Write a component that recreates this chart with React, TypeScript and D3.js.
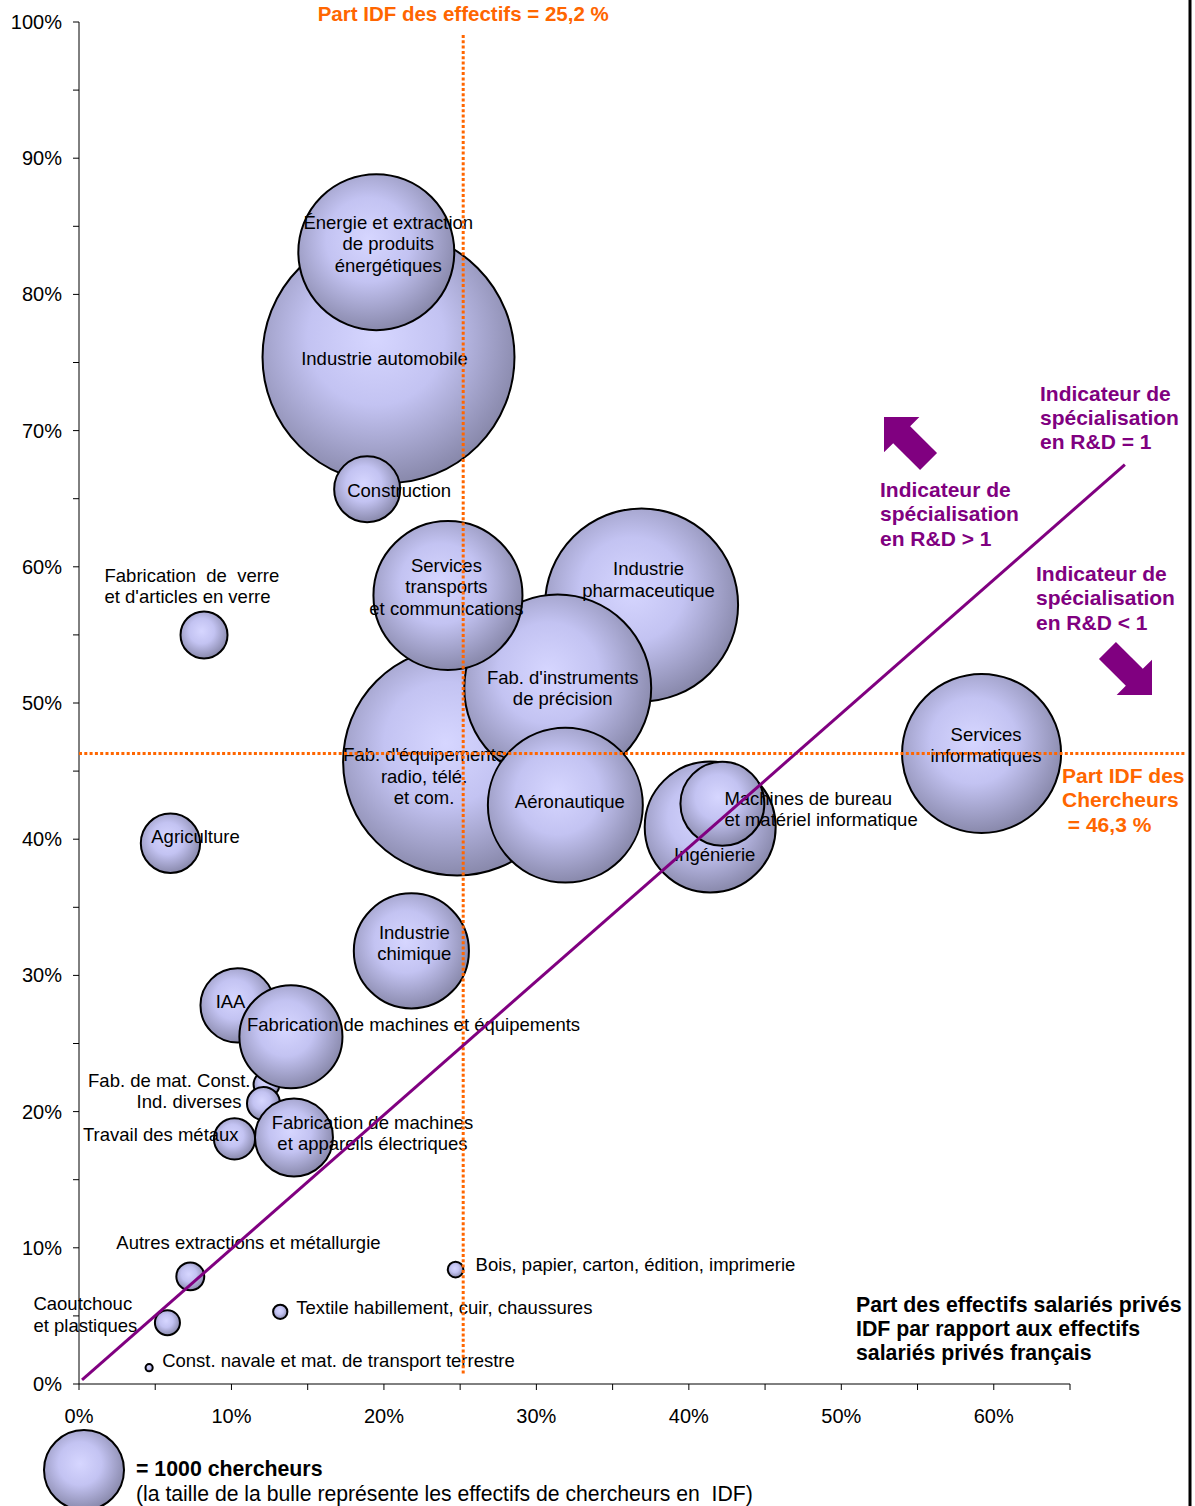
import React from "react";
import * as d3 from "d3";

// Sectors (a "\n" marks where the bubble label wraps)
const sectors = [
  "Industrie automobile",
  "Énergie et extraction\nde produits\nénergétiques",
  "Construction",
  "Fab. d'équipements\nradio, télé.\net com.",
  "Industrie\npharmaceutique",
  "Fab. d'instruments\nde précision",
  "Services\ntransports\net communications",
  "Aéronautique",
  "Ingénierie",
  "Machines de bureau\net matériel informatique",
  "Services\ninformatiques",
  "Fabrication  de  verre\net d'articles en verre",
  "Agriculture",
  "Industrie\nchimique",
  "IAA",
  "Fab. de mat. Const.",
  "Ind. diverses",
  "Fabrication de machines et équipements",
  "Travail des métaux",
  "Fabrication de machines\net appareils électriques",
  "Autres extractions et métallurgie",
  "Caoutchouc\net plastiques",
  "Const. navale et mat. de transport terrestre",
  "Textile habillement, cuir, chaussures",
  "Bois, papier, carton, édition, imprimerie",
];

// Part des effectifs salariés privés IDF / France (%)
const employeeShare = [
  20.3, 19.5, 18.9, 24.8, 36.9, 31.4, 24.2, 31.9, 41.4, 42.2, 59.2, 8.2, 6.0,
  21.8, 10.4, 12.3, 12.1, 13.9, 10.2, 14.1, 7.3, 5.8, 4.6, 13.2, 24.7,
];

// Part IDF des chercheurs (%)
const researcherShare = [
  75.4, 83.1, 65.7, 45.7, 57.2, 51.1, 57.9, 42.5, 40.9, 42.6, 46.3, 55.0, 39.7,
  31.8, 27.8, 22.0, 20.6, 25.5, 18.0, 18.1, 7.9, 4.5, 1.2, 5.3, 8.4,
];

// Effectifs de chercheurs en IDF (bubble area)
const researchers = [
  9920, 3800, 680, 8120, 5820, 5460, 3470, 3750, 2680, 1100, 3950, 345, 550,
  2070, 860, 105, 170, 1660, 265, 950, 122, 98, 8, 32, 38,
];

// Reference values
const idfEmployeeShare = 25.2;
const idfResearcherShare = 46.3;
const legendResearchers = 1000;
// Specialisation indicator = 1 line, endpoints in data units
const indicatorLine = [
  [0.2, 0.3],
  [68.6, 67.5],
];

// Axis ticks
const xMajorTicks = [0, 10, 20, 30, 40, 50, 60];
const xMinorTicks = [5, 15, 25, 35, 45, 55, 65];
const yMajorTicks = [0, 10, 20, 30, 40, 50, 60, 70, 80, 90, 100];
const yMinorTicks = [5, 15, 25, 35, 45, 55, 65, 75, 85, 95];

// Label placement relative to each bubble centre: [dx, dy of first line, anchor]
const labelLayout: [number, number, string][] = [
  [-4, 1, "middle"],
  [12, -30, "middle"],
  [32, 1, "middle"],
  [-33, -7, "middle"],
  [7, -36, "middle"],
  [5, -11, "middle"],
  [-1.5, -30, "middle"],
  [4.5, -4, "middle"],
  [4.5, 27.5, "middle"],
  [2, -5.5, "start"],
  [4.5, -19, "middle"],
  [-99.5, -59.5, "start"],
  [25, -6.5, "middle"],
  [3, -18.5, "middle"],
  [-7, -4, "middle"],
  [-16, -4, "end"],
  [-22, -2, "end"],
  [-44, -12, "start"],
  [-151.5, -4.5, "start"],
  [78.5, -15, "middle"],
  [-74, -34, "start"],
  [-134, -19, "start"],
  [13, -7, "start"],
  [16, -4, "start"],
  [20, -5, "start"],
];

const W = 1195;
const H = 1506;
const FONT = "'Liberation Sans', Arial, Helvetica, sans-serif";
const ORANGE = "#FF6600";
const PURPLE = "#800080";
const LINE_H = 21.5;

const x = d3.scaleLinear().domain([0, 65]).range([79, 1070]);
const y = d3.scaleLinear().domain([0, 100]).range([1384, 22]);
const r = d3.scaleSqrt().domain([0, 1000]).range([0, 40]);
const pct = (v: number) => `${v}%`;

// Block arrow polygon from tip, direction and sizes
function blockArrow(
  tip: [number, number],
  dir: [number, number],
  headLen: number,
  headHalf: number,
  shaftLen: number,
  shaftHalf: number
) {
  const n = Math.hypot(dir[0], dir[1]);
  const d = [dir[0] / n, dir[1] / n];
  const p = [-d[1], d[0]];
  const bx = tip[0] - d[0] * headLen;
  const by = tip[1] - d[1] * headLen;
  const ex = bx - d[0] * shaftLen;
  const ey = by - d[1] * shaftLen;
  const pts = [
    tip,
    [bx + p[0] * headHalf, by + p[1] * headHalf],
    [bx + p[0] * shaftHalf, by + p[1] * shaftHalf],
    [ex + p[0] * shaftHalf, ey + p[1] * shaftHalf],
    [ex - p[0] * shaftHalf, ey - p[1] * shaftHalf],
    [bx - p[0] * shaftHalf, by - p[1] * shaftHalf],
    [bx - p[0] * headHalf, by - p[1] * headHalf],
  ];
  return pts.map((q) => q.join(",")).join(" ");
}

function MultiText({
  x0,
  y0,
  lines,
  anchor,
  size,
  weight,
  fill,
  lh,
}: {
  x0: number;
  y0: number;
  lines: string[];
  anchor: string;
  size: number;
  weight?: string;
  fill?: string;
  lh: number;
}) {
  return (
    <>
      {lines.map((t, i) => (
        <text
          key={i}
          x={x0}
          y={y0 + i * lh}
          textAnchor={anchor as any}
          dominantBaseline="central"
          fontSize={size}
          fontWeight={weight || "normal"}
          fill={fill || "#000"}
          style={{ whiteSpace: "pre" }}
        >
          {t}
        </text>
      ))}
    </>
  );
}

export default function App() {
  const bubbles = sectors.map((name, i) => ({
    name,
    cx: x(employeeShare[i]),
    cy: y(researcherShare[i]),
    rr: r(researchers[i]),
    layout: labelLayout[i],
  }));

  const vx = x(idfEmployeeShare);
  const hy = y(idfResearcherShare);

  return (
    <svg
      width={W}
      height={H}
      viewBox={`0 0 ${W} ${H}`}
      style={{ position: "absolute", left: 0, top: 0, background: "#fff" }}
      fontFamily={FONT}
    >
      <defs>
        <radialGradient id="bubbleFill" cx="45%" cy="42%" r="60%">
          <stop offset="0%" stopColor="#d6d6ff" />
          <stop offset="45%" stopColor="#c3c3f2" />
          <stop offset="100%" stopColor="#8686a8" />
        </radialGradient>
      </defs>
      <rect x={0} y={0} width={W} height={H} fill="#fff" />

      {/* Axes */}
      <g stroke="#000" strokeWidth={1}>
        <line x1={x(0)} x2={x(0)} y1={y(100)} y2={y(0)} />
        <line x1={x(0)} x2={x(65)} y1={y(0)} y2={y(0)} />
        {[...yMajorTicks, ...yMinorTicks].map((t) => (
          <line key={"yt" + t} x1={x(0) - 6} x2={x(0)} y1={y(t)} y2={y(t)} />
        ))}
        {[...xMajorTicks, ...xMinorTicks].map((t) => (
          <line key={"xt" + t} x1={x(t)} x2={x(t)} y1={y(0)} y2={y(0) + 6} />
        ))}
      </g>
      {yMajorTicks.map((t) => (
        <text
          key={"yl" + t}
          x={62}
          y={y(t)}
          textAnchor="end"
          dominantBaseline="central"
          fontSize={20}
        >
          {pct(t)}
        </text>
      ))}
      {xMajorTicks.map((t) => (
        <text
          key={"xl" + t}
          x={x(t)}
          y={y(0) + 32}
          textAnchor="middle"
          dominantBaseline="central"
          fontSize={20}
        >
          {pct(t)}
        </text>
      ))}

      {/* Bubbles */}
      {bubbles.map((b, i) => (
        <circle
          key={"b" + i}
          cx={b.cx}
          cy={b.cy}
          r={b.rr}
          fill="url(#bubbleFill)"
          stroke="#000"
          strokeWidth={2}
        />
      ))}

      {/* Bubble labels */}
      {bubbles.map((b, i) => (
        <MultiText
          key={"l" + i}
          x0={b.cx + b.layout[0]}
          y0={b.cy + b.layout[1]}
          lines={b.name.split("\n")}
          anchor={b.layout[2]}
          size={18.5}
          lh={LINE_H}
        />
      ))}

      {/* Reference lines */}
      <line
        x1={vx}
        x2={vx}
        y1={35}
        y2={y(0) - 10}
        stroke={ORANGE}
        strokeWidth={3}
        strokeDasharray="3 2.3"
      />
      <line
        x1={x(0)}
        x2={1185}
        y1={hy}
        y2={hy}
        stroke={ORANGE}
        strokeWidth={3}
        strokeDasharray="3 2.3"
      />
      <line
        x1={x(indicatorLine[0][0])}
        y1={y(indicatorLine[0][1])}
        x2={x(indicatorLine[1][0])}
        y2={y(indicatorLine[1][1])}
        stroke={PURPLE}
        strokeWidth={3}
      />

      {/* Arrows */}
      <polygon
        points={blockArrow([884, 417], [-1, -1], 25, 25, 38, 12)}
        fill={PURPLE}
      />
      <polygon
        points={blockArrow([1152, 695], [1, 1], 25, 25, 38, 12)}
        fill={PURPLE}
      />

      {/* Annotations */}
      <text
        x={vx}
        y={13}
        textAnchor="middle"
        dominantBaseline="central"
        fontSize={20.5}
        fontWeight="bold"
        fill={ORANGE}
      >
        Part IDF des effectifs = 25,2 %
      </text>
      <MultiText
        x0={1062}
        y0={775}
        lines={["Part IDF des", "Chercheurs", " = 46,3 %"]}
        anchor="start"
        size={21}
        weight="bold"
        fill={ORANGE}
        lh={24.5}
      />
      <MultiText
        x0={1040}
        y0={393}
        lines={["Indicateur de", "spécialisation", "en R&D = 1"]}
        anchor="start"
        size={21}
        weight="bold"
        fill={PURPLE}
        lh={24.3}
      />
      <MultiText
        x0={880}
        y0={489}
        lines={["Indicateur de", "spécialisation", "en R&D > 1"]}
        anchor="start"
        size={21}
        weight="bold"
        fill={PURPLE}
        lh={24.5}
      />
      <MultiText
        x0={1036}
        y0={573}
        lines={["Indicateur de", "spécialisation", "en R&D < 1"]}
        anchor="start"
        size={21}
        weight="bold"
        fill={PURPLE}
        lh={24.5}
      />
      <MultiText
        x0={856}
        y0={1305}
        lines={[
          "Part des effectifs salariés privés",
          "IDF par rapport aux effectifs",
          "salariés privés français",
        ]}
        anchor="start"
        size={21.3}
        weight="bold"
        lh={24}
      />

      {/* Legend */}
      <circle
        cx={84}
        cy={1470}
        r={r(legendResearchers)}
        fill="url(#bubbleFill)"
        stroke="#000"
        strokeWidth={2}
      />
      <text
        x={136}
        y={1469}
        dominantBaseline="central"
        fontSize={21.3}
        fontWeight="bold"
      >
        = 1000 chercheurs
      </text>
      <text
        x={136}
        y={1493}
        dominantBaseline="central"
        fontSize={21.2}
        style={{ whiteSpace: "pre" }}
      >
        (la taille de la bulle représente les effectifs de chercheurs en  IDF)
      </text>

      {/* Frame edge */}
      <line x1={1190} x2={1190} y1={0} y2={H} stroke="#000" strokeWidth={3} />
    </svg>
  );
}
